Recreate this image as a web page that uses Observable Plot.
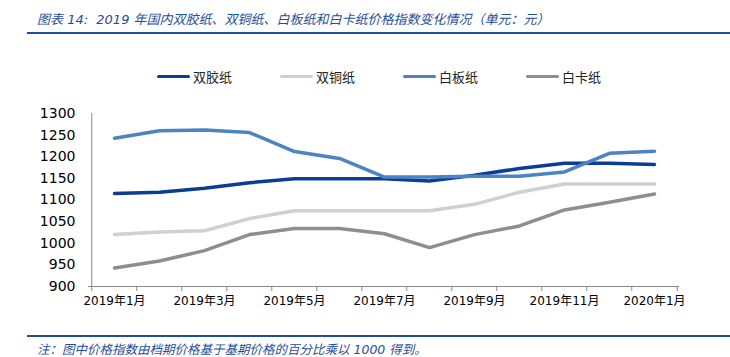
<!DOCTYPE html>
<html><head><meta charset="utf-8">
<script src="https://cdn.jsdelivr.net/npm/d3@7"></script>
<script src="https://cdn.jsdelivr.net/npm/@observablehq/plot@0.6"></script>
<style>
html,body{margin:0;padding:0;background:#fff;}
#wrap{position:relative;width:730px;height:357px;overflow:hidden;font-family:"DejaVu Sans","Noto Sans CJK SC",sans-serif;}
#title{position:absolute;left:37px;top:9px;font-size:13px;font-style:italic;color:#1f4e9c;white-space:nowrap;font-family:"DejaVu Sans","Noto Sans CJK SC",sans-serif;}
#tline{position:absolute;left:27px;top:32px;width:703px;height:2px;background:#1f4e9c;}
#fline{position:absolute;left:27px;top:335px;width:703px;height:2px;background:#1f4e9c;}
#note{position:absolute;left:37px;top:339px;font-size:12.5px;font-style:italic;color:#1f4e9c;white-space:nowrap;}
.leg{position:absolute;top:67px;font-size:13px;color:#222;font-family:"Noto Sans CJK SC",sans-serif;display:flex;align-items:center;}
.sw{display:inline-block;width:33px;height:3.5px;margin-right:3px;border-radius:2px;}
#chart{position:absolute;left:0;top:0;}
</style></head>
<body><div id="wrap">
<div id="chart"></div>
<div id="title">图表 14:&nbsp; 2019 年国内双胶纸、双铜纸、白板纸和白卡纸价格指数变化情况（单元：元）</div>
<div id="tline"></div>
<div id="legend"></div>
<div id="fline"></div>
<div id="note">注：图中价格指数由档期价格基于基期价格的百分比乘以 1000 得到。</div>
</div>
<script>
const months = ["2019年1月","2019年2月","2019年3月","2019年4月","2019年5月","2019年6月","2019年7月","2019年8月","2019年9月","2019年10月","2019年11月","2019年12月","2020年1月"];
const xTickLabels = ["2019年1月","2019年3月","2019年5月","2019年7月","2019年9月","2019年11月","2020年1月"];
const yTicks = [900,950,1000,1050,1100,1150,1200,1250,1300];
const seriesNames = ["双胶纸","双铜纸","白板纸","白卡纸"];
const seriesColors = ["#0b3d93","#d0d0d0","#4d82c4","#8e8e8e"];
const shuangjiao = [1115,1118,1127,1140,1149,1149,1149,1144,1157,1173,1185,1185,1182];
const shuangtong = [1020,1026,1029,1057,1075,1075,1075,1075,1090,1118,1137,1137,1137];
const baiban = [1243,1260,1262,1256,1212,1196,1153,1153,1155,1155,1165,1208,1213];
const baika = [943,959,983,1020,1034,1034,1022,990,1020,1040,1077,1095,1114];

const allSeries = [shuangjiao, shuangtong, baiban, baika];
const rows = [];
allSeries.forEach((vals, si) => vals.forEach((v, i) => rows.push({series: seriesNames[si], month: months[i], value: v})));

const W = 730, H = 357, ML = 88, MR = 51, MT = 113, MB = 71;
const step = (W - ML - MR) / months.length;

const chart = Plot.plot({
  width: W, height: H,
  marginLeft: ML, marginRight: MR, marginTop: MT, marginBottom: MB,
  style: {fontFamily: '"DejaVu Sans","Noto Sans CJK SC",sans-serif', background: "transparent", color: "#000"},
  x: {type: "point", domain: months, padding: 0.5, label: null},
  y: {domain: [900, 1300], label: null},
  color: {domain: seriesNames, range: seriesColors},
  marks: [
    Plot.ruleX([months[0]], {dx: -step/2, y1: 900, y2: 1300, stroke: "#888", strokeWidth: 1}),
    Plot.ruleY([900], {stroke: "#888", strokeWidth: 1}),
    Plot.axisY({ticks: yTicks, tickSize: 0, tickPadding: 13, fontSize: 14, tickFormat: d => String(d), label: null}),
    Plot.axisX({ticks: months, tickSize: 5, dx: -step/2, tickFormat: () => "", stroke: "#888", label: null}),
    Plot.ruleX([months[months.length-1]], {dx: step/2, y1: 900, y2: 900, insetBottom: -5, stroke: "#888"}),
    Plot.axisX({ticks: xTickLabels, tickSize: 0, tickPadding: 10, fontSize: 12, label: null}),
    Plot.line(rows, {x: "month", y: "value", z: "series", stroke: "series", strokeWidth: 3.5, strokeLinecap: "round", strokeLinejoin: "round"})
  ]
});
document.getElementById("chart").appendChild(chart);

const legendX = [157, 280, 403, 526];
const leg = document.getElementById("legend");
seriesNames.forEach((n, i) => {
  const d = document.createElement("div");
  d.className = "leg";
  d.style.left = legendX[i] + "px";
  d.innerHTML = `<span class="sw" style="background:${seriesColors[i]}"></span><span>${n}</span>`;
  leg.appendChild(d);
});
</script>
</body></html>
